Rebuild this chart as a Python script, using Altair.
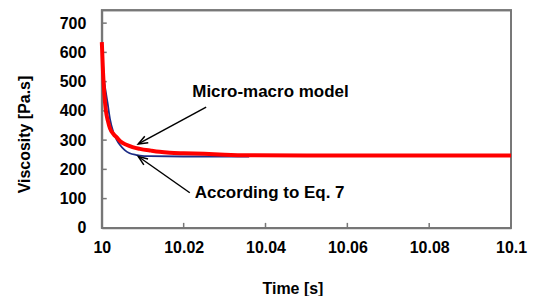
import math
import altair as alt
import pandas as pd

# ---- data ----
red_t = [10.0, 10.0003, 10.0006, 10.001, 10.0015, 10.002, 10.003, 10.0036, 10.0045,
         10.006, 10.0075, 10.0093, 10.012, 10.0141, 10.0166, 10.02, 10.025, 10.03,
         10.036, 10.05, 10.1]
red_v = [635, 530, 460, 400, 365, 340, 318, 310, 296, 284, 276, 270, 264, 260, 257,
         255, 253, 250, 248, 247, 247]

blue_t = [10.0, 10.0005, 10.001, 10.0014, 10.002, 10.0028, 10.0036, 10.0044, 10.0056,
          10.0068, 10.0085, 10.0093, 10.0117, 10.02, 10.036]
blue_v = [635, 515, 462, 428, 372, 328, 302, 284, 266, 255, 249, 247, 245, 244, 244]

y_ticks = [0, 100, 200, 300, 400, 500, 600, 700]
x_ticks = [10.0, 10.02, 10.04, 10.06, 10.08, 10.1]

labels = ["Micro-macro model", "According to Eq. 7"]
label_t = [10.0221, 10.0227]
label_v = [464, 120]

arrow_t0 = [10.0255, 10.0215]
arrow_v0 = [413, 120]
arrow_t1 = [10.0089, 10.0089]
arrow_v1 = [287, 244]

# ---- layout ----
W, H = 410, 218
XD = [10.0, 10.1]
YD = [0, 744]
FONT = "Liberation Sans"
GRAY = "#777777"
TICK_T = 0.0012
TICK_V = 17

def px(t, v):
    return ((t - XD[0]) / (XD[1] - XD[0]) * W, H - (v - YD[0]) / (YD[1] - YD[0]) * H)

angles = []
for a0, b0, a1, b1 in zip(arrow_t0, arrow_v0, arrow_t1, arrow_v1):
    x0, y0 = px(a0, b0)
    x1, y1 = px(a1, b1)
    angles.append(math.degrees(math.atan2(x1 - x0, -(y1 - y0))) % 360)

red_df = pd.DataFrame({"t": red_t, "v": red_v})
blue_df = pd.DataFrame({"t": blue_t, "v": blue_v})
lab_df = pd.DataFrame({"label": labels, "t": label_t, "v": label_v})
arr_df = pd.DataFrame({"t0": arrow_t0, "v0": arrow_v0, "t1": arrow_t1, "v1": arrow_v1, "ang": angles})
box_df = pd.DataFrame({"t0": [XD[0]], "t1": [XD[1]], "v0": [YD[0]], "v1": [YD[1]]})

seg_rows = []
for i, v in enumerate(y_ticks):
    seg_rows.append({"id": f"y{i}", "o": 0, "t": XD[0], "v": v})
    seg_rows.append({"id": f"y{i}", "o": 1, "t": XD[0] + TICK_T, "v": v})
for i, t in enumerate(x_ticks):
    seg_rows.append({"id": f"x{i}", "o": 0, "t": t, "v": YD[0]})
    seg_rows.append({"id": f"x{i}", "o": 1, "t": t, "v": YD[0] + TICK_V})
seg_df = pd.DataFrame(seg_rows)

xs = alt.Scale(domain=XD, nice=False, zero=False)
ys = alt.Scale(domain=YD, nice=False, zero=True)

x_axis = alt.Axis(
    values=x_ticks, format="~f", title="Time [s]", grid=False,
    domain=True, domainColor=GRAY, domainWidth=1.8, ticks=False,
    labelFont=FONT, labelFontSize=16, labelFontWeight="bold", labelColor="#000",
    labelPadding=12, labelFlush=False, labelOverlap=False, labelBound=False,
    titleFont=FONT, titleFontSize=16, titleFontWeight="bold", titleColor="#000",
    titleX=191, titleY=66, titleBaseline="alphabetic", titleAlign="center",
)
y_axis = alt.Axis(
    values=y_ticks, title="Viscosity [Pa.s]", grid=False,
    domain=True, domainColor=GRAY, domainWidth=1.8, ticks=False,
    labelFont=FONT, labelFontSize=16, labelFontWeight="bold", labelColor="#000",
    labelPadding=16, labelBaseline="middle", labelOverlap=False, labelBound=False,
    labelFlush=False,
    titleFont=FONT, titleFontSize=16, titleFontWeight="bold", titleColor="#000",
    titleX=-77, titleY=124, titleAngle=270, titleBaseline="middle", titleAlign="center",
)

def X(f):
    return alt.X(f, scale=xs, axis=x_axis)

def Y(f):
    return alt.Y(f, scale=ys, axis=y_axis)

box = alt.Chart(box_df).mark_rect(
    fill="white", fillOpacity=0, stroke=GRAY, strokeWidth=1.8, strokeOpacity=1
).encode(
    x=X("t0:Q"), x2="t1:Q", y=Y("v0:Q"), y2="v1:Q"
)
ticks = alt.Chart(seg_df).mark_line(color=GRAY, strokeWidth=1.5).encode(
    x=X("t:Q"), y=Y("v:Q"), detail="id:N", order="o:Q"
)

blue = alt.Chart(blue_df).mark_line(color="#1c2c86", strokeWidth=1.8, interpolate="monotone").encode(
    x=X("t:Q"), y=Y("v:Q"),
)
red = alt.Chart(red_df).mark_line(color="#ff0000", strokeWidth=4, interpolate="monotone").encode(
    x=X("t:Q"), y=Y("v:Q"),
)

arrows = alt.Chart(arr_df).mark_rule(color="#000", strokeWidth=1.5).encode(
    x=X("t0:Q"), y=Y("v0:Q"), x2="t1:Q", y2="v1:Q",
)
heads = alt.Chart(arr_df).mark_point(
    shape="M -0.7 1.8 L 0 0 L 0.7 1.8", filled=False, color="#000", strokeWidth=1.5,
    size=110, opacity=1,
).encode(
    x=X("t1:Q"), y=Y("v1:Q"), angle=alt.Angle("ang:Q", scale=None),
)

texts = alt.Chart(lab_df).mark_text(
    align="left", baseline="middle", font=FONT, fontSize=17, fontWeight="bold", color="#000"
).encode(
    x=X("t:Q"), y=Y("v:Q"), text="label:N"
)

chart = alt.layer(box, ticks, blue, red, arrows, heads, texts).properties(
    width=W, height=H,
    autosize=alt.AutoSizeParams(type="none"),
    padding={"left": 94, "top": 2, "right": 20, "bottom": 68},
).configure(
    background="white",
    view=alt.ViewConfig(stroke=GRAY, strokeWidth=1.8),
)

chart.save("out.html", embed_options={"renderer": "svg", "actions": False})
